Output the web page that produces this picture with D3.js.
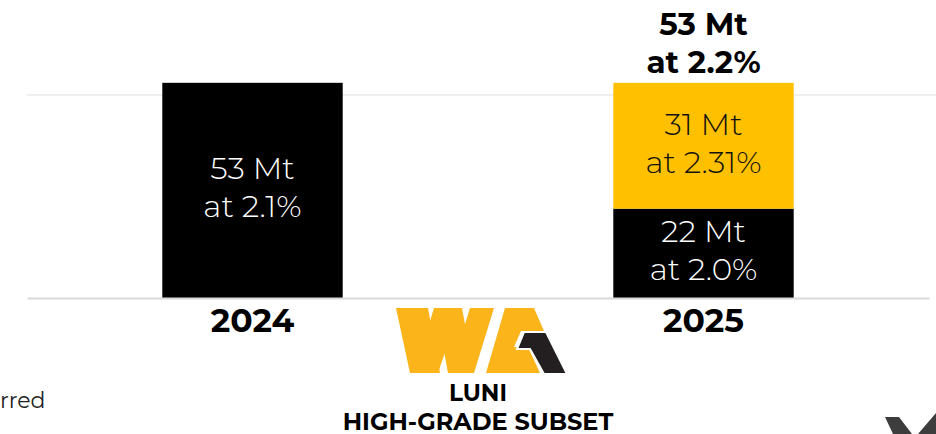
<!DOCTYPE html>
<html>
<head>
<meta charset="utf-8">
<script src="https://cdn.jsdelivr.net/npm/d3@7"></script>
<style>
  html, body { margin: 0; padding: 0; background: #fff; }
  svg { display: block; }
</style>
</head>
<body>
<div id="chart"></div>
<script>
// Data
const years = ["2024", "2025"];
const baseTonnes = [53, 22];          // black segment (Mt)
const baseGrade = ["2.1%", "2.0%"];
const addedTonnes = [0, 31];          // yellow segment (Mt)
const addedGrade = ["", "2.31%"];
const totalLabels = ["", "53 Mt"];
const totalGrade = ["", "2.2%"];
const gridValues = [50];

const width = 936;
const height = 434;

const svg = d3.select("#chart")
  .append("svg")
    .attr("width", width)
    .attr("height", height)
    .attr("viewBox", [0, 0, width, height]);

const rows = years.map((y, i) => ({
  year: y,
  base: baseTonnes[i],
  added: addedTonnes[i],
  baseGrade: baseGrade[i],
  addedGrade: addedGrade[i],
  total: totalLabels[i],
  totalGrade: totalGrade[i]
}));

// ------ Scales ------ //
const x = d3.scaleBand()
  .domain(years)
  .range([27, 929])
  .paddingInner(0.6)
  .paddingOuter(0.3);

const y = d3.scaleLinear()
  .domain([0, 50])
  .range([298, 95]);

const colors = { base: "#000000", added: "#FFC000" };
const textColors = { base: "#ffffff", added: "#111111" };

// ------ Gridlines ------ //
svg.append("g")
  .selectAll("line")
  .data(gridValues)
  .join("line")
    .attr("x1", 27)
    .attr("x2", 936)
    .attr("y1", d => y(d))
    .attr("y2", d => y(d))
    .attr("stroke", "#efefef")
    .attr("stroke-width", 2);

// ------ Stacked bars ------ //
const stack = d3.stack().keys(["base", "added"]);
const series = stack(rows);

const layers = svg.append("g")
  .selectAll("g")
  .data(series)
  .join("g")
    .attr("fill", d => colors[d.key]);

layers.selectAll("rect")
  .data(d => d.map(p => ({ key: d.key, p })))
  .join("rect")
    .attr("x", d => x(d.p.data.year))
    .attr("width", x.bandwidth())
    .attr("y", d => y(d.p[1]))
    .attr("height", d => y(d.p[0]) - y(d.p[1]));

// Segment labels
const segLabels = series.flatMap(s => s
  .filter(p => p[1] - p[0] > 0)
  .map(p => ({ key: s.key, p })));

const labelFont = "Montserrat, Lato, 'Open Sans', sans-serif";
const boldFont = "Montserrat, 'DejaVu Sans', sans-serif";

const segText = svg.append("g")
  .selectAll("text")
  .data(segLabels)
  .join("text")
    .attr("text-anchor", "middle")
    .attr("font-family", labelFont)
    .attr("font-weight", 300)
    .attr("font-size", 31)
    .attr("fill", d => textColors[d.key]);

segText.append("tspan")
  .attr("x", d => x(d.p.data.year) + x.bandwidth() / 2)
  .attr("y", d => (y(d.p[0]) + y(d.p[1])) / 2 - 11)
  .text(d => `${d.p[1] - d.p[0]} Mt`);

segText.append("tspan")
  .attr("x", d => x(d.p.data.year) + x.bandwidth() / 2)
  .attr("y", d => (y(d.p[0]) + y(d.p[1])) / 2 + 27)
  .text(d => `at ${d.key === "base" ? d.p.data.baseGrade : d.p.data.addedGrade}`);

// Total labels above the bars
const totText = svg.append("g")
  .selectAll("text")
  .data(rows.filter(d => d.total !== ""))
  .join("text")
    .attr("text-anchor", "middle")
    .attr("font-family", boldFont)
    .attr("font-weight", 700)
    .attr("font-size", 31)
    .attr("fill", "#000");

totText.append("tspan")
  .attr("x", d => x(d.year) + x.bandwidth() / 2)
  .attr("y", d => y(d.base + d.added) - 48)
  .text(d => d.total);

totText.append("tspan")
  .attr("x", d => x(d.year) + x.bandwidth() / 2)
  .attr("y", d => y(d.base + d.added) - 10)
  .text(d => `at ${d.totalGrade}`);

// ------ X axis ------ //
const xAxis = svg.append("g")
  .attr("transform", `translate(0, ${y(0)})`)
  .call(d3.axisBottom(x).tickSize(0).tickSizeOuter(0).tickPadding(11));

xAxis.select(".domain")
  .attr("stroke", "#d9d9d9")
  .attr("stroke-width", 2);

xAxis.selectAll("text")
  .attr("font-family", boldFont)
  .attr("font-weight", 700)
  .attr("font-size", 33)
  .attr("fill", "#000");

// ------ Logo and caption ------ //
const logo = svg.append("g");
const logoYellow = "#FBB41A";
const logoDark = "#231F20";

const wStrokes = [
  "M396,308 L428,308 L440,373 L410,373 Z",
  "M414,373 L438,373 L460,308 L434,308 Z",
  "M436,308 L462,308 L474,373 L448,373 Z",
  "M450,373 L474,373 L494,308 L470,308 Z"
];
logo.selectAll("path.w")
  .data(wStrokes)
  .join("path")
    .attr("class", "w")
    .attr("d", d => d)
    .attr("fill", logoYellow);

logo.append("path")
  .attr("d", "M505,308 L534,308 L544,331 L521,331 L514,347 L528,347 L540,373 L486,373 Z")
  .attr("fill", logoYellow);

logo.append("path")
  .attr("d", "M524,332 L546,332 L567,374 L544,374 L530,349 L517,349 Z")
  .attr("fill", logoDark)
  .attr("stroke", "#fff")
  .attr("stroke-width", 2);

logo.append("text")
  .attr("x", 478)
  .attr("y", 401)
  .attr("text-anchor", "middle")
  .attr("font-family", boldFont)
  .attr("font-weight", 700)
  .attr("font-size", 23)
  .attr("fill", "#000")
  .text("LUNI");

logo.append("text")
  .attr("x", 478)
  .attr("y", 430)
  .attr("text-anchor", "middle")
  .attr("font-family", boldFont)
  .attr("font-weight", 700)
  .attr("font-size", 24)
  .attr("fill", "#000")
  .text("HIGH-GRADE SUBSET");

// Cut-off pieces at the edges of the slide
svg.append("text")
  .attr("x", 0)
  .attr("y", 408)
  .attr("font-family", labelFont)
  .attr("font-size", 22)
  .attr("fill", "#222")
  .text("rred");

svg.append("path")
  .attr("d", "M885,417 L899,417 L912,434 L893,434 Z M918,434 L936,413 L936,434 Z")
  .attr("fill", "#3d3d3d");
</script>
</body>
</html>
